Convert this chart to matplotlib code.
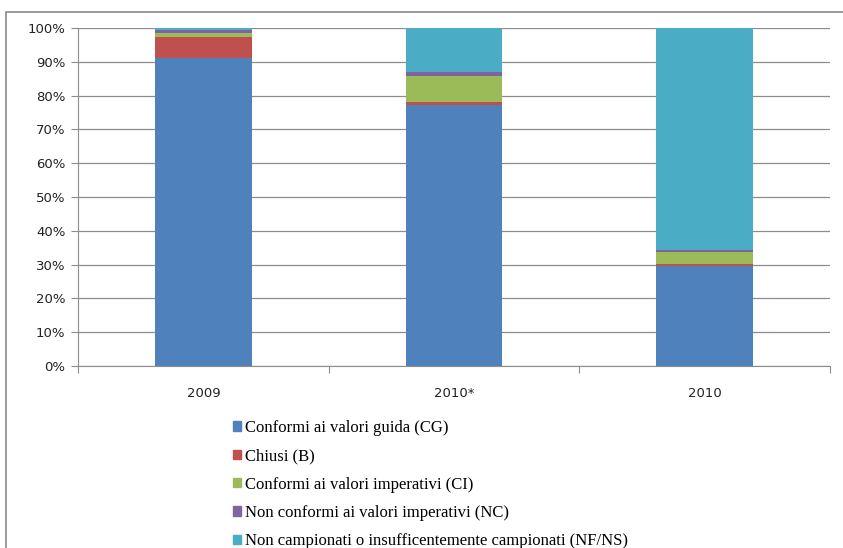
import matplotlib
matplotlib.use('Agg')
import matplotlib.pyplot as plt
import matplotlib.patches as mpatches
from matplotlib.ticker import PercentFormatter

categories = ['2009', '2010*', '2010']
series_names = ['Conformi ai valori guida (CG)',
                'Chiusi (B)',
                'Conformi ai valori imperativi (CI)',
                'Non conformi ai valori imperativi (NC)',
                'Non campionati o insufficentemente campionati (NF/NS)']
cg = [91.0, 77.2, 29.5]
b = [6.4, 0.8, 0.7]
ci = [1.2, 7.9, 3.6]
nc = [0.8, 1.2, 0.4]
nf = [0.6, 12.9, 65.8]
colors = ['#4F81BD', '#C0504D', '#9BBB59', '#8064A2', '#4BACC6']

W, H = 843, 548
fig = plt.figure(figsize=(W / 100, H / 100), dpi=100)
ax = fig.add_axes([78 / W, 1 - 366 / H, (830 - 78) / W, (366 - 28) / H])

x = list(range(len(categories)))
bottom = [0.0] * len(categories)
for vals, col, name in zip([cg, b, ci, nc, nf], colors, series_names):
    ax.bar(x, vals, bottom=bottom, width=0.385, color=col, label=name, zorder=2)
    bottom = [bo + v for bo, v in zip(bottom, vals)]

ax.set_xlim(-0.5, 2.5)
ax.set_ylim(0, 100)
ax.set_yticks(range(0, 101, 10))
ax.yaxis.set_major_formatter(PercentFormatter(decimals=0))
ax.grid(axis='y', color='#8c8c8c', linewidth=0.9, zorder=0)

# category boundaries as major ticks, labels on minor ticks
ax.set_xticks([-0.5, 0.5, 1.5, 2.5])
ax.set_xticklabels([])
ax.set_xticks(x, minor=True)
ax.set_xticklabels(categories, minor=True)
ax.tick_params(axis='x', which='major', length=5, color='#8c8c8c', direction='out')
ax.tick_params(axis='x', which='minor', length=0, pad=15)
ax.tick_params(axis='y', length=5, color='#8c8c8c', pad=4)
ax.tick_params(which='both', labelsize=9.5, labelcolor='#222222')

for s in ['top', 'right']:
    ax.spines[s].set_visible(False)
for s in ['left', 'bottom']:
    ax.spines[s].set_color('#8c8c8c')

leg_handles = [mpatches.Rectangle((0, 0), 1, 1, color=c) for c in colors]
fig.legend(leg_handles, series_names, loc='upper left',
           bbox_to_anchor=(233 / W, 1 - 420 / H), frameon=False,
           prop={'family': 'Liberation Serif', 'size': 12},
           handlelength=0.5, handleheight=0.5, handletextpad=0.2,
           labelspacing=0.74, borderaxespad=0, borderpad=0)

# outer chart border
border = mpatches.Rectangle((6 / W, -0.1), 1.1, 1.1 - 12 / H,
                            transform=fig.transFigure, fill=False,
                            edgecolor='#8a8a8a', linewidth=1.2)
fig.patches.append(border)

fig.savefig('out.png', dpi=100)
